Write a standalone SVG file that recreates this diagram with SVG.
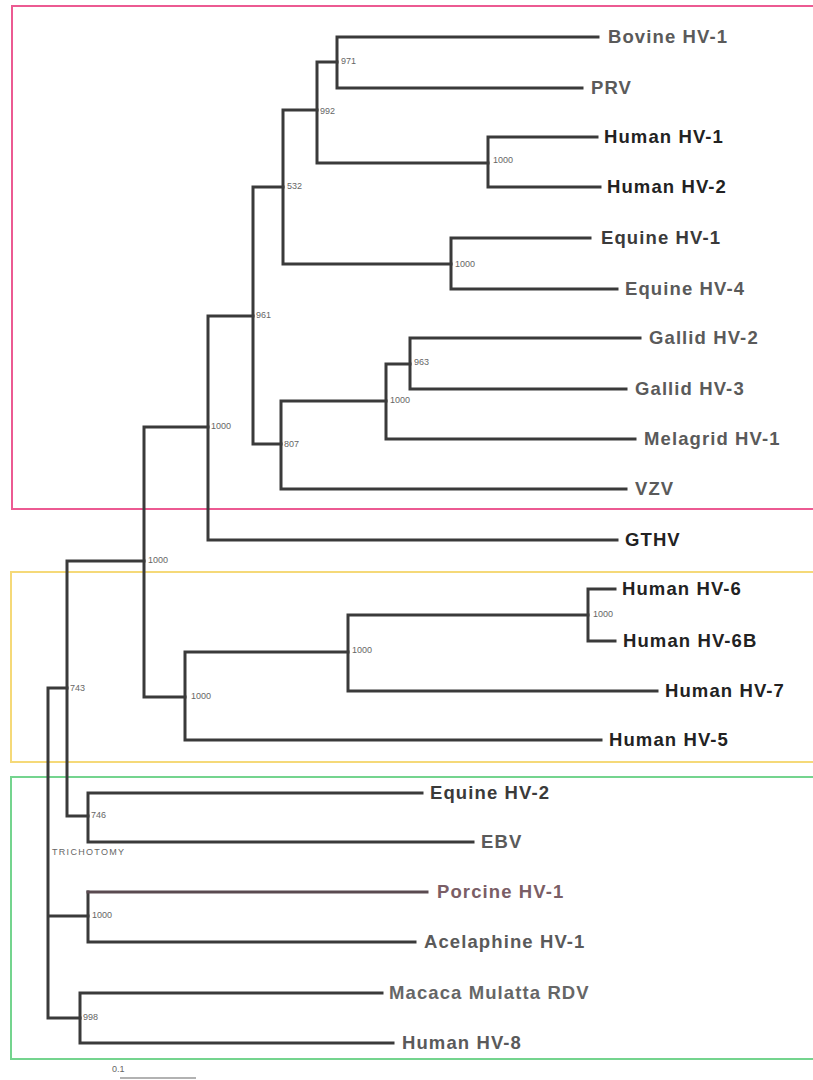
<svg xmlns="http://www.w3.org/2000/svg" width="813" height="1080" viewBox="0 0 813 1080">
<style>
.br{fill:none;stroke:#3a3a3a;stroke-width:3;stroke-linecap:square;stroke-linejoin:miter}
.lb{font-family:"Liberation Sans",Arial,sans-serif;font-weight:bold;font-size:18.5px;letter-spacing:1.1px}
.dk{fill:#222}
.md{fill:#3a3a3a}
.gy{fill:#5a5a5a}
.bs{font-family:"Liberation Sans",Arial,sans-serif;font-size:9px;fill:#666}
.box{fill:none;stroke-width:2}
</style>
<rect width="813" height="1080" fill="#ffffff"/>
<g id="boxes">
<rect class="box" x="12" y="6" width="820" height="503" stroke="#ec5a92"/>
<rect class="box" x="11" y="572" width="820" height="190" stroke="#f5d978"/>
<rect class="box" x="11" y="777" width="820" height="282" stroke="#74d48e"/>
</g>
<g id="connectors">
<path class="br" d="M337 37V88M337 37H598M337 88H582"/>
<path class="br" d="M317 62V163M317 62H337M317 163H488"/>
<path class="br" d="M488 137V187M488 137H597M488 187H600"/>
<path class="br" d="M283 110V264M283 110H317M283 264H451"/>
<path class="br" d="M451 238V289M451 238H590M451 289H617"/>
<path class="br" d="M253 187V444M253 187H283M253 444H281"/>
<path class="br" d="M281 401V489M281 401H386M281 489H626"/>
<path class="br" d="M386 364V439M386 364H410M386 439H635"/>
<path class="br" d="M410 338V389M410 338H640M410 389H626"/>
<path class="br" d="M208 316V540M208 316H253M208 540H617"/>
<path class="br" d="M144 427V697M144 427H208M144 697H185"/>
<path class="br" d="M185 652V740M185 652H348M185 740H601"/>
<path class="br" d="M348 615V691M348 615H588M348 691H657"/>
<path class="br" d="M588 589V641M588 589H615M588 641H615"/>
<path class="br" d="M67 561V816M67 561H144M67 816H88"/>
<path class="br" d="M88 793V842M88 793H422M88 842H473"/>
<path class="br" d="M48 688V1018M48 688H67M48 916H88M48 1018H80"/>
<path class="br" d="M88 892V942M88 942H415"/>
<path class="br" d="M88 892H427" style="stroke:#5a4a50"/>
<path class="br" d="M80 993V1043M80 993H382M80 1043H393"/>
<path d="M120 1078H196" stroke="#999" stroke-width="1.5"/>
</g>
<g id="bootstrap">
<text class="bs" x="341" y="64">971</text>
<text class="bs" x="320" y="114">992</text>
<text class="bs" x="493" y="163">1000</text>
<text class="bs" x="287" y="189">532</text>
<text class="bs" x="455" y="267">1000</text>
<text class="bs" x="256" y="318">961</text>
<text class="bs" x="414" y="365">963</text>
<text class="bs" x="390" y="403">1000</text>
<text class="bs" x="284" y="447">807</text>
<text class="bs" x="211" y="429">1000</text>
<text class="bs" x="148" y="563">1000</text>
<text class="bs" x="593" y="617">1000</text>
<text class="bs" x="352" y="653">1000</text>
<text class="bs" x="191" y="699">1000</text>
<text class="bs" x="70" y="691">743</text>
<text class="bs" x="91" y="818">746</text>
<text class="bs" x="52" y="855" style="letter-spacing:1.3px">TRICHOTOMY</text>
<text class="bs" x="92" y="918">1000</text>
<text class="bs" x="83" y="1020">998</text>
<text class="bs" x="112" y="1072">0.1</text>
</g>
<g id="taxa">
<g id="bovine"><text class="lb gy" x="608" y="43">Bovine HV-1</text></g>
<g id="prv"><text class="lb gy" x="591" y="94">PRV</text></g>
<g id="hhv1"><text class="lb dk" x="604" y="143">Human HV-1</text></g>
<g id="hhv2"><text class="lb dk" x="607" y="193">Human HV-2</text></g>
<g id="ehv1"><text class="lb md" x="601" y="244">Equine HV-1</text></g>
<g id="ehv4"><text class="lb gy" x="625" y="295">Equine HV-4</text></g>
<g id="gallid2"><text class="lb gy" x="649" y="344">Gallid HV-2</text></g>
<g id="gallid3"><text class="lb gy" x="635" y="395">Gallid HV-3</text></g>
<g id="melagrid"><text class="lb gy" x="644" y="445">Melagrid HV-1</text></g>
<g id="vzv"><text class="lb gy" x="635" y="495">VZV</text></g>
<g id="gthv"><text class="lb dk" x="625" y="546">GTHV</text></g>
<g id="hhv6"><text class="lb dk" x="622" y="595">Human HV-6</text></g>
<g id="hhv6b"><text class="lb dk" x="623" y="647">Human HV-6B</text></g>
<g id="hhv7"><text class="lb dk" x="665" y="697">Human HV-7</text></g>
<g id="hhv5"><text class="lb dk" x="609" y="746">Human HV-5</text></g>
<g id="ehv2"><text class="lb md" x="430" y="799">Equine HV-2</text></g>
<g id="ebv"><text class="lb gy" x="481" y="848">EBV</text></g>
<g id="porcine"><text class="lb" x="437" y="898" fill="#7a5e66">Porcine HV-1</text></g>
<g id="acelaphine"><text class="lb gy" x="424" y="948">Acelaphine HV-1</text></g>
<g id="macaca"><text class="lb" x="389" y="999" fill="#666">Macaca Mulatta RDV</text></g>
<g id="hhv8"><text class="lb gy" x="402" y="1049">Human HV-8</text></g>
</g>
</svg>
